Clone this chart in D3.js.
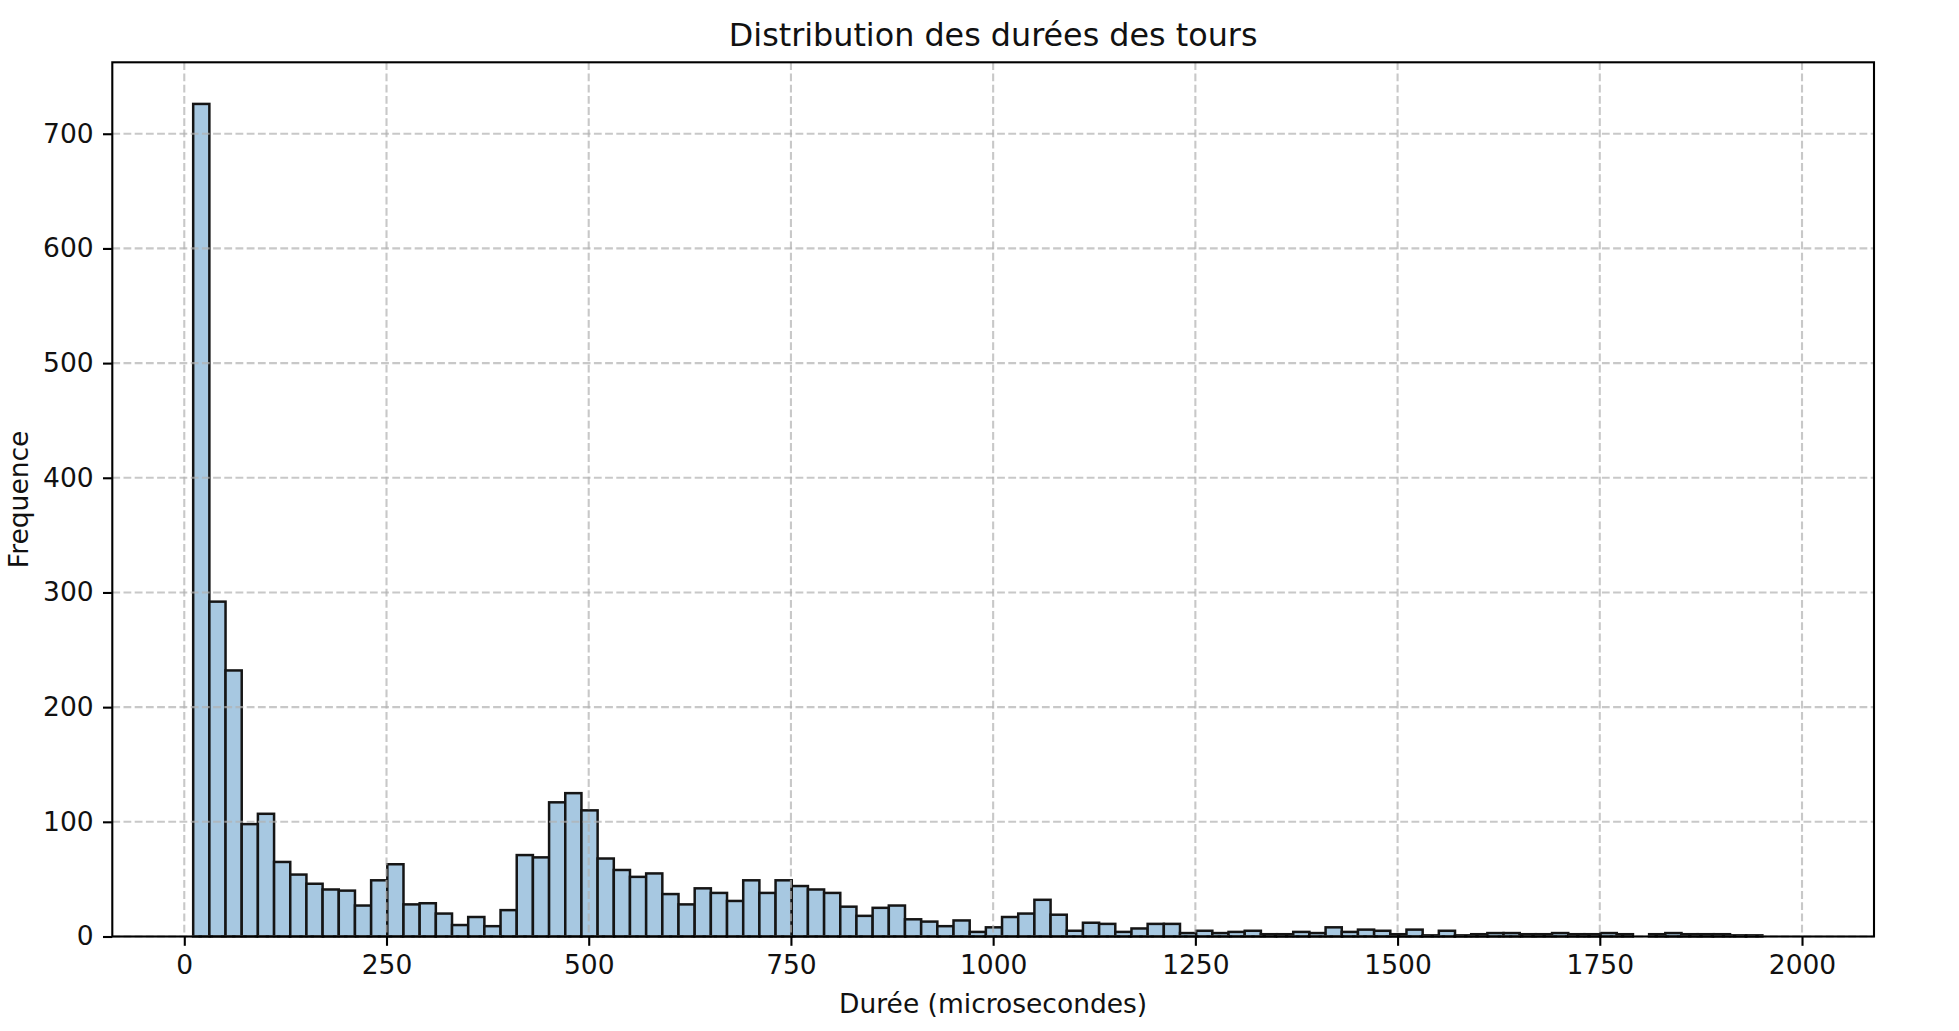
<!DOCTYPE html>
<html>
<head>
<meta charset="utf-8">
<script src="https://cdn.jsdelivr.net/npm/d3@7"></script>
<style>
  body { margin: 0; background: #fff; }
  text { font-family: "DejaVu Sans", sans-serif; fill: #111; }
</style>
</head>
<body>
<svg id="chart" width="1959" height="1031"></svg>
<script>
// histogram : 20 us wide bins starting at 11 us
const binStart = 11;
const binWidth = 20;
const counts = [
  726, 292, 232, 98, 107, 65, 54, 46, 41, 40,
  27, 49, 63, 28, 29, 20, 10, 17, 9, 23,
  71, 69, 117, 125, 110, 68, 58, 52, 55, 37,
  28, 42, 38, 31, 49, 38, 49, 44, 41, 38,
  26, 18, 25, 27, 15, 13, 9, 14, 4, 8,
  17, 20, 32, 19, 5, 12, 11, 4, 7, 11,
  11, 3, 5, 3, 4, 5, 2, 2, 4, 3,
  8, 4, 6, 5, 2, 6, 1, 5, 1, 2,
  3, 3, 2, 2, 3, 2, 2, 3, 2, 0,
  2, 3, 2, 2, 2, 1, 1
];
const xTicks = [0, 250, 500, 750, 1000, 1250, 1500, 1750, 2000];
const yTicks = [0, 100, 200, 300, 400, 500, 600, 700];
const xDomain = [-89, 2089];
const yDomain = [0, 762.3];

const bins = counts.map((c, i) => ({
  x0: binStart + i * binWidth,
  x1: binStart + (i + 1) * binWidth,
  n: c
}));

// plot area
var margin = {top: 62.3, right: 85, bottom: 94.5, left: 112.3},
    width = 1959 - margin.left - margin.right,
    height = 1031 - margin.top - margin.bottom;

var svg = d3.select("#chart");
var g = svg.append("g")
    .attr("transform", "translate(" + margin.left + "," + margin.top + ")");

var x = d3.scaleLinear().domain(xDomain).range([0, width]);
var y = d3.scaleLinear().domain(yDomain).range([height, 0]);

// bars
g.selectAll("rect.bar")
  .data(bins)
  .enter()
  .append("rect")
    .attr("class", "bar")
    .attr("x", d => x(d.x0))
    .attr("y", d => y(d.n))
    .attr("width", d => x(d.x1) - x(d.x0))
    .attr("height", d => height - y(d.n))
    .style("fill", "#a7c8e1")
    .style("stroke", d => d.n > 0 ? "#151515" : "none")
    .style("stroke-width", 2.5);

// grid (drawn above the bars, like matplotlib)
var grid = g.append("g").attr("class", "grid")
    .style("stroke", "#b0b0b0")
    .style("stroke-opacity", 0.7)
    .style("stroke-width", 2.1)
    .style("stroke-dasharray", "7.8,3.4");
grid.selectAll("line.vx")
  .data(xTicks)
  .enter().append("line")
    .attr("x1", d => x(d)).attr("x2", d => x(d))
    .attr("y1", 0).attr("y2", height);
grid.selectAll("line.hy")
  .data(yTicks)
  .enter().append("line")
    .attr("x1", 0).attr("x2", width)
    .attr("y1", d => y(d)).attr("y2", d => y(d));

// axes
var xAxis = g.append("g")
    .attr("transform", "translate(0," + height + ")")
    .call(d3.axisBottom(x).tickValues(xTicks).tickFormat(d3.format("d"))
      .tickSizeInner(9.3).tickSizeOuter(0).tickPadding(9.3));
var yAxis = g.append("g")
    .call(d3.axisLeft(y).tickValues(yTicks).tickFormat(d3.format("d"))
      .tickSizeInner(9.3).tickSizeOuter(0).tickPadding(9.3));

[xAxis, yAxis].forEach(function(a) {
  a.select(".domain").remove();
  a.selectAll(".tick line").style("stroke", "#000").style("stroke-width", 2.1);
  a.selectAll(".tick text")
    .style("font-size", "26.5px")
    .style("font-family", "'DejaVu Sans', sans-serif")
    .style("fill", "#111");
});

// frame
g.append("rect")
  .attr("x", 0).attr("y", 0)
  .attr("width", width).attr("height", height)
  .style("fill", "none")
  .style("stroke", "#000")
  .style("stroke-width", 2.1);

// titles
svg.append("text")
  .attr("x", margin.left + width / 2)
  .attr("y", 46)
  .attr("text-anchor", "middle")
  .style("font-size", "31.8px")
  .text("Distribution des durées des tours");

svg.append("text")
  .attr("x", margin.left + width / 2)
  .attr("y", 1013)
  .attr("text-anchor", "middle")
  .style("font-size", "26.5px")
  .text("Durée (microsecondes)");

svg.append("text")
  .attr("transform", "translate(28," + (margin.top + height / 2) + ") rotate(-90)")
  .attr("text-anchor", "middle")
  .style("font-size", "26.5px")
  .text("Frequence");
</script>
</body>
</html>
